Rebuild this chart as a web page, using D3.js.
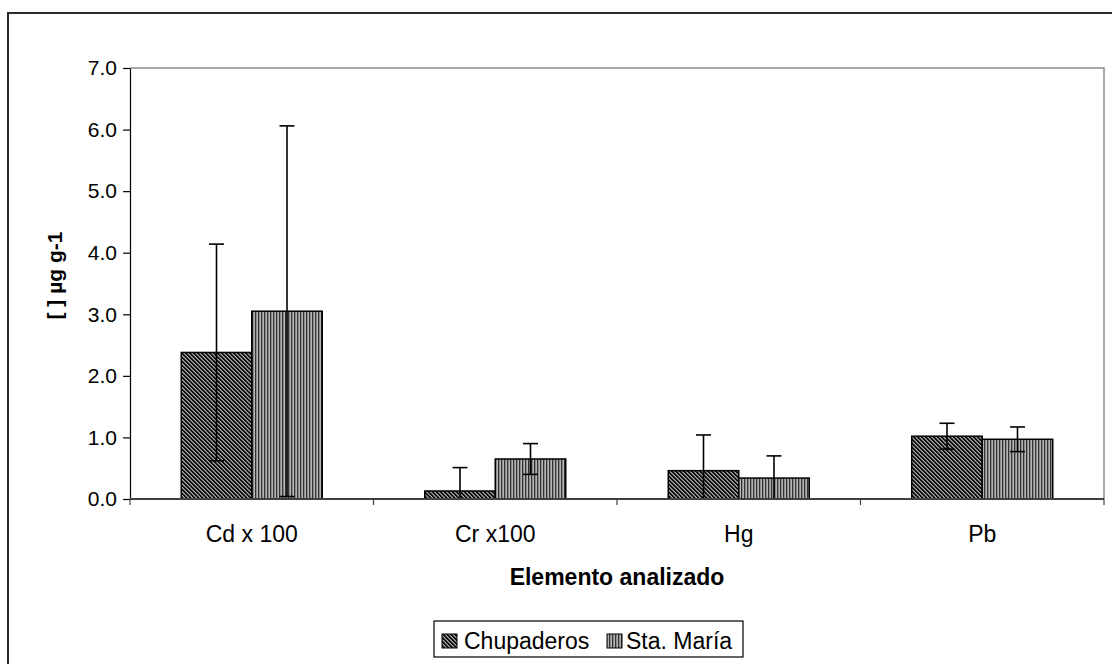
<!DOCTYPE html>
<html>
<head>
<meta charset="utf-8">
<script src="https://cdn.jsdelivr.net/npm/d3@7"></script>
<style>
  html, body { margin: 0; padding: 0; background: #fff; }
  svg { display: block; font-family: "Liberation Sans", Arial, sans-serif; }
</style>
</head>
<body>
<svg id="chart" width="1112" height="664"></svg>
<script>
// Element concentrations (µg g-1) at the two sites, with standard deviations
const categories = ["Cd x 100", "Cr x100", "Hg", "Pb"];
const seriesNames = ["Chupaderos", "Sta. María"];
const chupaderos = [2.38, 0.13, 0.46, 1.02];
const chupaderosSD = [1.76, 0.38, 0.58, 0.21];
const staMaria = [3.05, 0.65, 0.34, 0.97];
const staMariaSD = [3.01, 0.25, 0.36, 0.20];
const yTicks = [0, 1, 2, 3, 4, 5, 6, 7];

const svg = d3.select("#chart");
const W = 1112, H = 664;
const plot = { left: 130, right: 1104, top: 68, bottom: 499 };

// Hatched fills for the two series
const defs = svg.append("defs");
const p1 = defs.append("pattern").attr("id", "hatchDiag")
  .attr("patternUnits", "userSpaceOnUse").attr("width", 4).attr("height", 4);
p1.append("rect").attr("width", 4).attr("height", 4).attr("fill", "#a8a8a8");
for (let y = 0; y < 4; y++) {
  for (let x = 0; x < 4; x++) {
    const d = ((x - y) % 4 + 4) % 4;
    if (d === 0 || d === 1) {
      p1.append("rect").attr("x", x).attr("y", y).attr("width", 1).attr("height", 1).attr("fill", "#111");
    }
    if (d === 2 && (x + y) % 2 === 0) {
      p1.append("rect").attr("x", x).attr("y", y).attr("width", 1).attr("height", 1).attr("fill", "#6a6a6a");
    }
  }
}
const p2 = defs.append("pattern").attr("id", "hatchVert")
  .attr("patternUnits", "userSpaceOnUse").attr("width", 3).attr("height", 3);
p2.append("rect").attr("width", 3).attr("height", 3).attr("fill", "#b4b4b4");
p2.append("rect").attr("x", 0).attr("width", 1).attr("height", 3).attr("fill", "#333");
p2.append("rect").attr("x", 1).attr("width", 1).attr("height", 3).attr("fill", "#8a8a8a");
const fills = ["url(#hatchDiag)", "url(#hatchVert)"];

// Outer chart frame (extends past the right and bottom edges)
svg.append("rect")
  .attr("x", 8).attr("y", 13).attr("width", W + 20).attr("height", H + 20)
  .attr("fill", "none").attr("stroke", "#2b2b2b").attr("stroke-width", 2);

// Scales
const x = d3.scaleBand().domain(categories)
  .range([plot.left, plot.right]).paddingInner(0.421).paddingOuter(0.2105);
const xSeries = d3.scaleBand().domain(d3.range(seriesNames.length))
  .range([0, x.bandwidth()]).padding(0);
const y = d3.scaleLinear().domain([0, 7]).range([plot.bottom, plot.top]);

// Plot area border (top and right, gray)
svg.append("path")
  .attr("d", `M${plot.left},${y(7)}H${plot.right}V${y(0)}`)
  .attr("fill", "none").attr("stroke", "#8c8c8c").attr("stroke-width", 1.5);

// Bars
const values = [chupaderos, staMaria];
const sds = [chupaderosSD, staMariaSD];
const rows = [];
categories.forEach((c, i) => {
  seriesNames.forEach((s, j) => {
    rows.push({ cat: c, s: j, v: values[j][i], sd: sds[j][i] });
  });
});

svg.append("g").selectAll("rect").data(rows).join("rect")
  .attr("x", d => x(d.cat) + xSeries(d.s))
  .attr("y", d => y(d.v))
  .attr("width", xSeries.bandwidth())
  .attr("height", d => y(0) - y(d.v))
  .attr("fill", d => fills[d.s])
  .attr("stroke", "#000").attr("stroke-width", 1.5);

// Error bars (clipped at zero)
const capW = 15;
const eb = svg.append("g").attr("stroke", "#000").attr("stroke-width", 1.6);
rows.forEach(d => {
  const cx = x(d.cat) + xSeries(d.s) + xSeries.bandwidth() / 2;
  const hi = d.v + d.sd;
  const lo = Math.max(0, d.v - d.sd);
  eb.append("line").attr("x1", cx).attr("x2", cx).attr("y1", y(hi)).attr("y2", y(lo));
  eb.append("line").attr("x1", cx - capW / 2).attr("x2", cx + capW / 2).attr("y1", y(hi)).attr("y2", y(hi));
  if (d.v - d.sd > 0) {
    eb.append("line").attr("x1", cx - capW / 2).attr("x2", cx + capW / 2).attr("y1", y(lo)).attr("y2", y(lo));
  }
});

// Y axis
const yAxis = svg.append("g").attr("transform", `translate(${plot.left},0)`)
  .call(d3.axisLeft(y).tickValues(yTicks).tickFormat(d3.format(".1f")).tickSize(7).tickPadding(6).tickSizeOuter(0));
yAxis.select(".domain").attr("stroke", "#000").attr("stroke-width", 1.2);
yAxis.selectAll(".tick line").attr("stroke", "#000").attr("stroke-width", 1.2);
yAxis.selectAll(".tick text").attr("font-size", 21).attr("fill", "#000")
  .attr("font-family", "'Liberation Sans', Arial, sans-serif");

// X axis with ticks between categories
const step = x.step();
const boundaries = categories.map(c => x(c) - (step - x.bandwidth()) / 2).concat([plot.right]);
const xg = svg.append("g");
xg.append("line").attr("x1", plot.left).attr("x2", plot.right)
  .attr("y1", y(0)).attr("y2", y(0)).attr("stroke", "#404040").attr("stroke-width", 1.8);
xg.selectAll("line.tk").data(boundaries).join("line").attr("class", "tk")
  .attr("x1", d => d).attr("x2", d => d).attr("y1", y(0)).attr("y2", y(0) + 6)
  .attr("stroke", "#404040").attr("stroke-width", 1.2);
xg.selectAll("text").data(categories).join("text")
  .attr("x", d => x(d) + x.bandwidth() / 2).attr("y", 542)
  .attr("text-anchor", "middle").attr("font-size", 23).attr("fill", "#000")
  .text(d => d);

// Axis titles
svg.append("text").attr("x", (plot.left + plot.right) / 2).attr("y", 585)
  .attr("text-anchor", "middle").attr("font-size", 23).attr("font-weight", "bold")
  .text("Elemento analizado");
svg.append("text").attr("transform", `translate(62,${(plot.top + plot.bottom) / 2 - 8}) rotate(-90)`)
  .attr("text-anchor", "middle").attr("font-size", 21).attr("font-weight", "bold")
  .text("[  ] µg g-1");

// Legend
const lg = svg.append("g");
lg.append("rect").attr("x", 434).attr("y", 621).attr("width", 309).attr("height", 36)
  .attr("fill", "#fff").attr("stroke", "#000").attr("stroke-width", 1.2);
const legendItems = [
  { name: seriesNames[0], fill: fills[0], mx: 442, tx: 464 },
  { name: seriesNames[1], fill: fills[1], mx: 607, tx: 626 }
];
legendItems.forEach(it => {
  lg.append("rect").attr("x", it.mx).attr("y", 634).attr("width", 15).attr("height", 14)
    .attr("fill", it.fill).attr("stroke", "#000").attr("stroke-width", 1);
  lg.append("text").attr("x", it.tx).attr("y", 649).attr("font-size", 23).text(it.name);
});
</script>
</body>
</html>
